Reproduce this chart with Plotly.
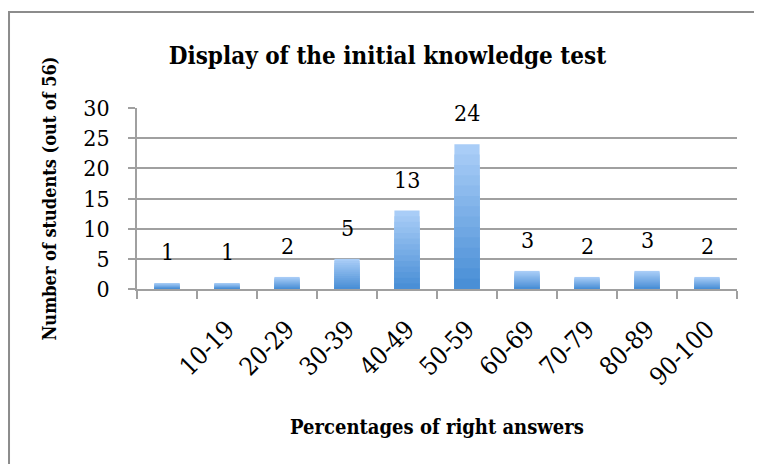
import plotly.graph_objects as go

# Data
ranges = [" ", "10-19", "20-29", "30-39", "40-49", "50-59", "60-69", "70-79", "80-89", "90-100"]
students = [1, 1, 2, 5, 13, 24, 3, 2, 3, 2]

TITLE = "Display of the initial knowledge test"
X_TITLE = "Percentages of right answers"
Y_TITLE = "Number of students (out of 56)"

FONT = "DejaVu Serif Condensed, DejaVu Serif"
GRID = "#a0a0a0"
TOP_BLUE = (169, 205, 247)
BOTTOM_BLUE = (74, 143, 214)

fig = go.Figure()

# fake a vertical gradient by overlaying progressively shorter bars
N_BANDS = 14
for k in range(N_BANDS):
    t = k / (N_BANDS - 1)
    r, g, b = (round(a + (c - a) * t) for a, c in zip(TOP_BLUE, BOTTOM_BLUE))
    fig.add_trace(go.Bar(
        x=ranges,
        y=[v * (1 - k / N_BANDS) for v in students],
        marker=dict(color=f"rgb({r},{g},{b})", line=dict(width=0)),
        hoverinfo="skip" if k else None,
        showlegend=False,
    ))

for cat, v in zip(ranges, students):
    fig.add_annotation(
        x=cat, y=v, text=str(v), showarrow=False,
        yanchor="bottom", yshift=16,
        font=dict(family=FONT, size=23, color="#000"),
    )

# outer frame of the chart area (page body adds an 8px offset)
fig.add_shape(
    type="rect", xref="paper", yref="paper",
    x0=-0.2133, x1=1.3, y0=-2.0, y1=1.5304,
    line=dict(color="#8c8c8c", width=2), fillcolor="rgba(0,0,0,0)",
)

fig.update_layout(
    width=762, height=464,
    margin=dict(l=129, r=33, t=100, b=183),
    paper_bgcolor="white", plot_bgcolor="white",
    barmode="overlay", bargap=0.58,
    font=dict(family=FONT, size=20, color="#000"),
    title=dict(
        text=f"<b>{TITLE}</b>", x=0.498, xanchor="center",
        y=0.8966, yanchor="middle",
        font=dict(family=FONT, size=24, color="#000"),
    ),
    xaxis=dict(
        type="category", tickangle=-45, tickson="boundaries",
        ticks="outside", ticklen=8, tickcolor=GRID, tickwidth=1.5,
        ticklabelstandoff=14,
        showline=True, linecolor=GRID, linewidth=1.5,
        showgrid=False, automargin=False,
        tickfont=dict(family=FONT, size=25),
        title=dict(text=f"<b>{X_TITLE}</b>", font=dict(family=FONT, size=20), standoff=30),
    ),
    yaxis=dict(
        range=[0, 30], dtick=5,
        ticks="outside", ticklen=7, tickcolor=GRID, tickwidth=1.5,
        ticklabelstandoff=14,
        showline=True, linecolor=GRID, linewidth=1.5,
        showgrid=True, gridcolor=GRID, gridwidth=1.5,
        zeroline=False, automargin=False,
        tickfont=dict(family=FONT, size=23),
        title=dict(text=f"<b>{Y_TITLE}</b>", font=dict(family=FONT, size=18), standoff=22),
    ),
)

fig.write_html("out.html")
